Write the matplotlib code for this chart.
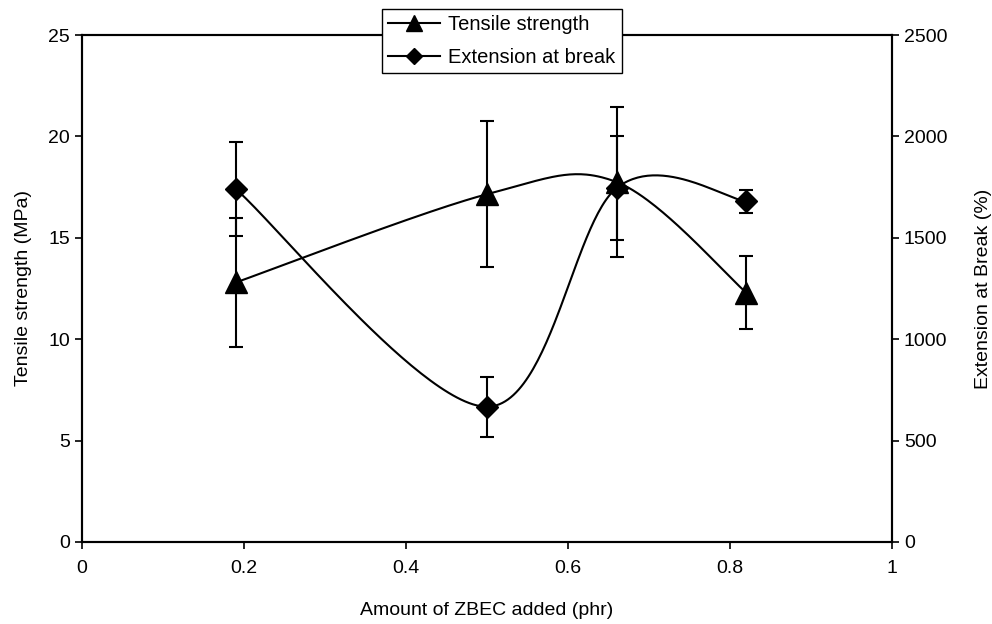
import numpy as np
import matplotlib
matplotlib.use("Agg")
import matplotlib.pyplot as plt
from matplotlib.lines import Line2D

plt.rcParams['font.family'] = ['Liberation Sans', 'DejaVu Sans']

zbec = [0.19, 0.5, 0.66, 0.82]
tensile = [12.8, 17.15, 17.75, 12.3]
tensile_err = [3.2, 3.6, 3.7, 1.8]
extension = [1740, 667, 1745, 1680]
extension_err = [233, 147, 255, 57]

xlim = (0, 1)
ylim_left = (0, 25)
ylim_right = (0, 2500)
FS = 14
LFS = 14.5

W, H = 992, 624
fig = plt.figure(figsize=(W / 100, H / 100), dpi=100)
L, R, B, T = 82 / W, 892 / W, (H - 542) / H, (H - 35) / H
ax = fig.add_axes([L, B, R - L, T - B])
ax2 = ax.twinx()

axw, axh = (R - L) * W, (T - B) * H


def smooth(xs, ys, ylim, n=60):
    px = (np.asarray(xs, float) - xlim[0]) / (xlim[1] - xlim[0]) * axw
    py = (np.asarray(ys, float) - ylim[0]) / (ylim[1] - ylim[0]) * axh
    P = np.column_stack([px, py])
    out = []
    t = np.linspace(0, 1, n)[:, None]
    for i in range(len(P) - 1):
        P0 = P[i - 1] if i > 0 else P[i]
        P1, P2 = P[i], P[i + 1]
        P3 = P[i + 2] if i + 2 < len(P) else P[i + 1]
        C1 = P1 + (P2 - P0) / 6
        C2 = P2 - (P3 - P1) / 6
        seg = ((1 - t) ** 3) * P1 + 3 * ((1 - t) ** 2) * t * C1 + 3 * (1 - t) * t ** 2 * C2 + t ** 3 * P2
        out.append(seg if i == 0 else seg[1:])
    S = np.vstack(out)
    sx = S[:, 0] / axw * (xlim[1] - xlim[0]) + xlim[0]
    sy = S[:, 1] / axh * (ylim[1] - ylim[0]) + ylim[0]
    return sx, sy


lw = 1.5
sx, sy = smooth(zbec, tensile, ylim_left)
ax.plot(sx, sy, color='black', lw=lw, zorder=3)
ax.errorbar(zbec, tensile, yerr=tensile_err, fmt='none', ecolor='black',
            elinewidth=lw, capsize=4.7, capthick=lw, zorder=3)
ax.plot(zbec, tensile, linestyle='none', marker='^', ms=16, color='black', zorder=4)

sx2, sy2 = smooth(zbec, extension, ylim_right)
ax2.plot(sx2, sy2, color='black', lw=lw, zorder=3)
ax2.errorbar(zbec, extension, yerr=extension_err, fmt='none', ecolor='black',
             elinewidth=lw, capsize=4.7, capthick=lw, zorder=3)
ax2.plot(zbec, extension, linestyle='none', marker='D', ms=11.5, color='black', zorder=4)

ax.set_xlim(*xlim)
ax.set_ylim(*ylim_left)
ax2.set_ylim(*ylim_right)
ax.set_xticks([0, 0.2, 0.4, 0.6, 0.8, 1])
ax.set_xticklabels(['0', '0.2', '0.4', '0.6', '0.8', '1'])
ax.set_yticks([0, 5, 10, 15, 20, 25])
ax2.set_yticks([0, 500, 1000, 1500, 2000, 2500])

for a in (ax, ax2):
    for s in a.spines.values():
        s.set_color('black')
        s.set_linewidth(1.5)
ax.tick_params(axis='both', direction='out', length=5, width=1.2, labelsize=FS, colors='black')
ax.tick_params(axis='x', pad=8)
ax2.tick_params(axis='y', direction='out', length=5, width=1.2, labelsize=FS, colors='black')

ax.set_xlabel('Amount of ZBEC added (phr)', fontsize=FS, labelpad=18)
ax.set_ylabel('Tensile strength (MPa)', fontsize=FS, labelpad=12)
ax2.set_ylabel('Extension at Break (%)', fontsize=FS, labelpad=20)

handles = [
    Line2D([], [], color='black', lw=lw, marker='^', ms=12),
    Line2D([], [], color='black', lw=lw, marker='D', ms=8),
]
leg = fig.legend(handles, ['Tensile strength', 'Extension at break'],
                 loc='upper left', bbox_to_anchor=(382 / W, 1 - 9 / H),
                 fontsize=LFS, frameon=True, fancybox=False, framealpha=1,
                 edgecolor='black', handlelength=2.6, borderpad=0.3,
                 labelspacing=0.7, handletextpad=0.4, borderaxespad=0)
leg.get_frame().set_linewidth(1.0)
leg.set_zorder(10)

fig.savefig('out.png', dpi=100)
